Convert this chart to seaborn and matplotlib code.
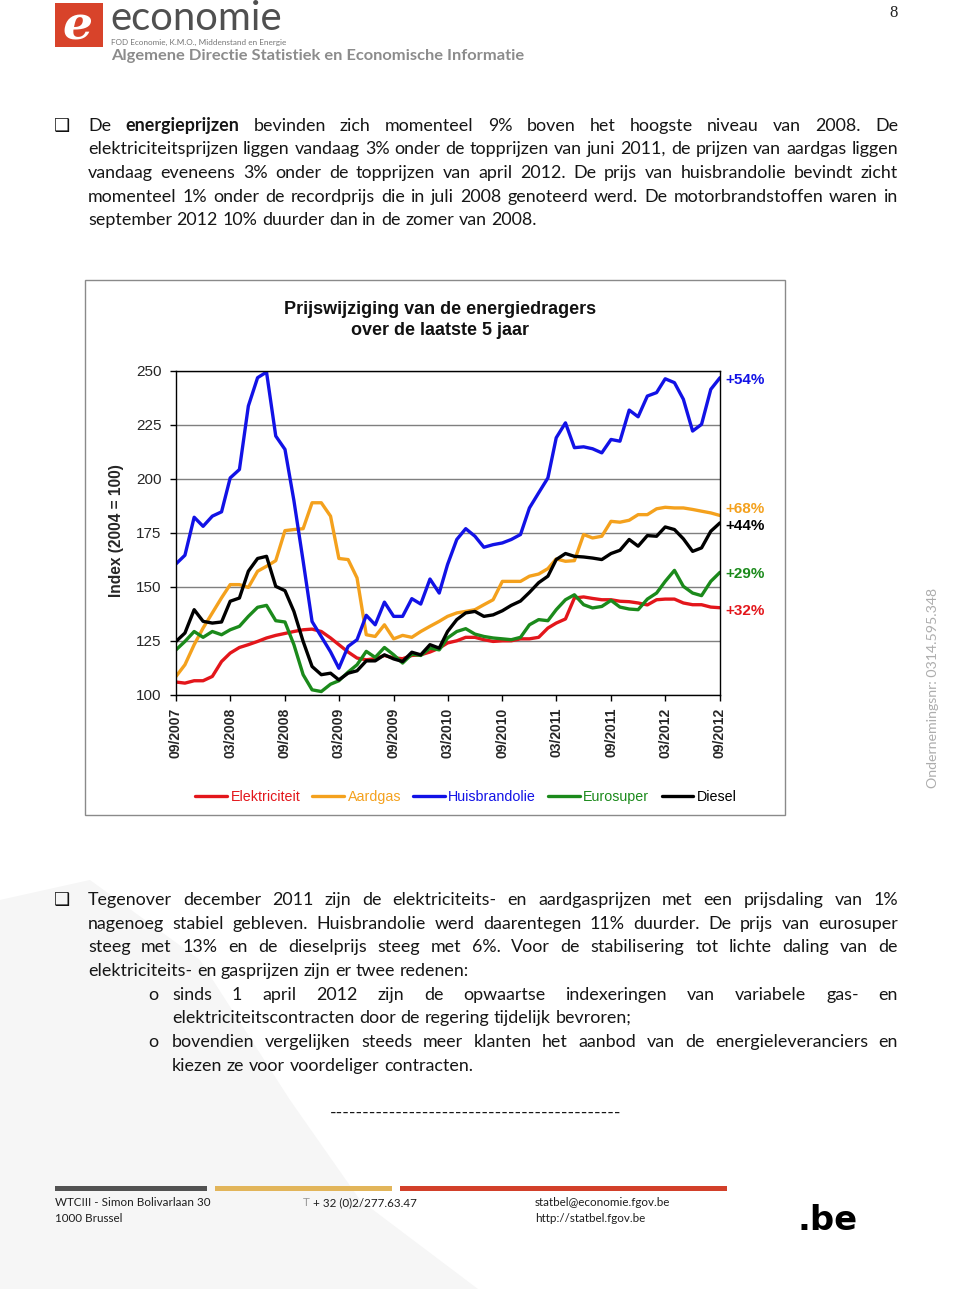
import pandas as pd
import seaborn as sns
import matplotlib
matplotlib.use("Agg")
import matplotlib.pyplot as plt
import matplotlib.dates as mdates
from matplotlib.patches import Rectangle, Polygon
from matplotlib.transforms import IdentityTransform

# Index (2004 = 100), monthly from 09/2007 to 09/2012
maanden = pd.date_range("2007-09-01", "2012-09-01", freq="MS")

elektriciteit = [106, 105.5, 106.6, 106.6, 108.6, 115.5, 119.4, 122, 123.3, 124.8, 126.4, 127.6, 128.5,
                 129.4, 130.2, 130.5, 129.4, 126.4, 123.3, 119.9, 117.1, 116.3, 116.8, 118.3, 117.2,
                 116.8, 118.3, 118.6, 119.9, 121.7, 124.1, 125.1, 126.7, 126.7, 125.6, 124.8, 125.1,
                 125.1, 126, 126, 126.7, 131,
                 133.3, 135.2, 144.9, 145.4, 144.7, 144.1, 144.1, 143.4, 143.2, 142.6, 141.7, 144.1,
                 144.4, 144.4, 142.6, 141.8, 141.8, 140.7, 140.4]
aardgas = [108.6, 114, 123.3, 131, 138, 145, 151.1, 151.1, 149.8, 157.3, 159.6, 162.2, 176.1,
           176.6, 177, 189, 189, 182.8, 163.2, 162.7, 154.2, 127.9, 127.1, 132.5, 126,
           127.6, 126.7, 129.4, 131.8, 134.1, 136.4, 138, 138.7, 139.5, 141.8, 144.1, 152.6,
           152.6, 152.6, 155, 156, 158.5,
           163, 161.9, 162.2, 174.3, 172.7, 173.5, 180.4, 180, 180.9, 183.5, 183.5, 186.2,
           186.9, 186.6, 186.6, 185.9, 185.1, 184.3, 183.1]
huisbrandolie = [160.7, 164.7, 182.3, 178.1, 182.8, 184.8, 200.5, 204.4, 233.8, 246.9, 249.5, 219.9, 213.7,
                 190, 162, 134, 127, 120, 112.4, 122.5, 125.6, 136.9, 132.5, 143, 136.4,
                 136.4, 144.6, 142.1, 153.7, 147.2, 160.4, 172, 177, 173.5, 168.4, 169.6, 170.4,
                 172, 174.3, 186.6, 193.6, 200.5,
                 219.1, 226, 214.5, 214.9, 214, 212.1, 218.3, 217.5, 231.9, 228.8, 238.4, 240,
                 246.4, 244.6, 236.9, 222.2, 225.3, 241.5, 246.9]
eurosuper = [120.9, 124.8, 129.4, 126.7, 129.4, 127.9, 130.2, 131.8, 136.4, 140.6, 141.5, 134.4, 133.8,
             123.3, 109.4, 102.4, 101.6, 105, 106.6, 110.6, 114, 120.2, 117.4, 122, 118.6,
             114.8, 118.9, 118.3, 121.7, 120.9, 126.4, 129.4, 130.7, 128.2, 127.1, 126.4, 126,
             125.6, 126.7, 132.5, 134.9, 134.4,
             139.5, 144.1, 146.4, 141.8, 140.3, 141, 143.8, 140.7, 139.8, 139.5, 144.4, 147.2,
             152.6, 157.7, 150.3, 147.2, 146, 152.6, 156.8]
diesel = [124.8, 128.7, 139.5, 134.1, 133.3, 133.8, 143.4, 144.9, 157.3, 163.2, 164.2, 150.3, 148.3,
          138.7, 124.8, 113.2, 109.4, 110.1, 107, 110.1, 111.2, 115.8, 115.8, 118.6, 116.7,
          115.5, 119.8, 118.6, 123.3, 121.7, 129.4, 134.9, 138, 138.7, 136.4, 137.1, 139,
          141.5, 143.5, 147.5, 152, 155,
          162.7, 165.5, 164.2, 163.9, 163.4, 162.7, 165.5, 167, 172, 168.9, 173.8, 173.5,
          177.8, 176.6, 172.3, 166.5, 168.1, 175.8, 179.7]

dragers = ["Elektriciteit", "Aardgas", "Huisbrandolie", "Eurosuper", "Diesel"]
kleuren = ["#e3161b", "#f4a11d", "#1212e6", "#1b8a1b", "#000000"]
eind_labels = ["+32%", "+68%", "+54%", "+29%", "+44%"]
label_dy = [-2.4, 4.7, -1.7, -1.2, -2.3]  # points

df = pd.DataFrame({"Maand": maanden, "Elektriciteit": elektriciteit, "Aardgas": aardgas,
                   "Huisbrandolie": huisbrandolie, "Eurosuper": eurosuper, "Diesel": diesel})
lang = df.melt(id_vars="Maand", var_name="Drager", value_name="Index")

# page setup, positions in pixels from the top-left
W, H = 960, 1289
sns.set_theme(style="white")
plt.rcParams["font.family"] = ["Liberation Sans", "DejaVu Sans"]
fig = plt.figure(figsize=(W / 100, H / 100), dpi=100)
fig.patch.set_facecolor("white")
PX = IdentityTransform()
rend = fig.canvas.get_renderer()


def put(x, y, s, **kw):
    return fig.text(x, H - y, s, transform=PX, **kw)


def width(s, **kw):
    t = put(0, 0, s, **kw)
    w = t.get_window_extent(rend).width
    t.remove()
    return w


def fit(s, target, size=10, **kw):
    return size * target / width(s, size=size, **kw)


# faint background swoosh
fig.add_artist(Polygon([(0, H - 900), (90, H - 880), (200, H - 960), (290, H - 1100), (360, H - 1200),
                        (478, 0), (0, 0)], closed=True, transform=PX, facecolor="#f6f6f6",
                       edgecolor="none", zorder=0))

# header
fig.add_artist(Rectangle((55, H - 47), 48, 44, transform=PX, facecolor="#d8432a", edgecolor="none"))
put(77, 27, "e", size=34, color="white", weight="bold", style="italic", ha="center", va="center",
    family=["DejaVu Serif"])
SANS = ["Lato", "DejaVu Sans"]
put(110, 30, "economie", size=fit("economie", 172, 20, family=SANS), family=SANS, color="#505050",
    va="baseline")
put(111, 45, "FOD Economie, K.M.O., Middenstand en Energie",
    size=fit("FOD Economie, K.M.O., Middenstand en Energie", 176, 5, family=SANS),
    family=SANS, color="#777777", va="baseline")
put(111, 60, "Algemene Directie Statistiek en Economische Informatie",
    size=fit("Algemene Directie Statistiek en Economische Informatie", 414, 10, family=SANS, weight="bold"),
    family=SANS, weight="bold", color="#8c8c8c", va="baseline")
put(894, 13, "8", size=12, family=["Liberation Serif"], color="#222222", ha="center", va="center")

# body text
BODY = dict(family=SANS, color="#161616")
body_size = fit("september 2012 10% duurder dan in de zomer van 2008.", 448, 12, **BODY)
space = width("n n", size=body_size, **BODY) - width("nn", size=body_size, **BODY)


def line(s, x0, y, x1=None):
    parts = []
    for w in s.split(" "):
        kw = dict(BODY, size=body_size, weight="bold" if w.startswith("*") else "normal")
        w = w.strip("*")
        parts.append((w, kw, width(w, **kw)))
    gap = space if x1 is None else (x1 - x0 - sum(p[2] for p in parts)) / (len(parts) - 1)
    x = x0
    for w, kw, wd in parts:
        put(x, y, w, va="baseline", **kw)
        x += wd + gap


par1 = ["De *energieprijzen* bevinden zich momenteel 9% boven het hoogste niveau van 2008. De",
        "elektriciteitsprijzen liggen vandaag 3% onder de topprijzen van juni 2011, de prijzen van aardgas liggen",
        "vandaag eveneens 3% onder de topprijzen van april 2012. De prijs van huisbrandolie bevindt zicht",
        "momenteel 1% onder de recordprijs die in juli 2008 genoteerd werd. De motorbrandstoffen waren in",
        "september 2012 10% duurder dan in de zomer van 2008."]
for k, (s, yc) in enumerate(zip(par1, [126, 149, 173, 197, 220])):
    line(s, 88, yc + 5, 898 if k < len(par1) - 1 else None)

par2 = ["Tegenover december 2011 zijn de elektriciteits- en aardgasprijzen met een prijsdaling van 1%",
        "nagenoeg stabiel gebleven. Huisbrandolie werd daarentegen 11% duurder. De prijs van eurosuper",
        "steeg met 13% en de dieselprijs steeg met 6%. Voor de stabilisering tot lichte daling van de",
        "elektriciteits- en gasprijzen zijn er twee redenen:"]
for k, (s, yc) in enumerate(zip(par2, [900, 924, 947, 971])):
    line(s, 88, yc + 5, 898 if k < len(par2) - 1 else None)
line("sinds 1 april 2012 zijn de opwaartse indexeringen van variabele gas- en", 172, 1000, 898)
line("elektriciteitscontracten door de regering tijdelijk bevroren;", 172, 1023)
line("bovendien vergelijken steeds meer klanten het aanbod van de energieleveranciers en", 172, 1047, 898)
line("kiezen ze voor voordeliger contracten.", 172, 1071)
for yc in [995, 1042]:
    put(148, yc + 5, "o", va="baseline", size=body_size, **BODY)
for yc in [126, 900]:
    put(62, yc, "\u2751", size=13, family=["DejaVu Sans"], color="#111111", ha="center", va="center")
put(476, 1113, "-" * 44, size=body_size, ha="center", va="center", **BODY)

# chart frame
fig.add_artist(Rectangle((85, H - 815), 700, 535, transform=PX, facecolor="white",
                         edgecolor="#8a8a8a", linewidth=1, zorder=1))

ax = fig.add_axes([176 / W, 1 - 695 / H, 544 / W, 324 / H])
ax.set_zorder(3)
sns.lineplot(data=lang, x="Maand", y="Index", hue="Drager", hue_order=dragers,
             palette=dict(zip(dragers, kleuren)), linewidth=2.4, ax=ax)

ax.set_xlim(maanden[0], maanden[-1])
ax.set_ylim(100, 250)
ax.set_yticks([100, 125, 150, 175, 200, 225, 250])
ax.set_xticks(maanden[::6])
ax.xaxis.set_major_formatter(mdates.DateFormatter("%m/%Y"))
ax.yaxis.grid(True, color="#7f7f7f", linewidth=1)
ax.xaxis.grid(False)
ax.set_axisbelow(True)
for sp in ax.spines.values():
    sp.set_visible(True)
    sp.set_color("black")
    sp.set_linewidth(1)
ax.tick_params(axis="y", length=4, width=1, color="black", direction="out", pad=6.5, labelsize=11, left=True)
ax.tick_params(axis="x", length=4, width=1, color="black", direction="out", pad=5, labelsize=10, bottom=True)
for t in ax.get_xticklabels():
    t.set_rotation(90)
    t.set_fontweight("bold")
ax.set_xlabel("")
ax.set_ylabel("")

put(116, 531, "Index (2004 = 100)", size=11.2, weight="bold", rotation=90, ha="center", va="center")
put(440, 320, "Prijswijziging van de energiedragers\nover de laatste 5 jaar", size=13, weight="bold",
    ha="center", va="center", linespacing=1.25, color="#111111")

for naam, kleur, lab, dy in zip(dragers, kleuren, eind_labels, label_dy):
    ax.annotate(lab, xy=(maanden[-1], df[naam].iloc[-1]), xytext=(3.8, dy), textcoords="offset points",
                ha="left", va="center", color=kleur, fontsize=11, fontweight="bold", annotation_clip=False)

sns.move_legend(ax, "center", bbox_to_anchor=((466 - 176) / 544, (695 - 797) / 324), ncol=5,
                frameon=False, title=None, fontsize=10.3, handlelength=2.2, handletextpad=0.25,
                columnspacing=0.85, labelcolor="linecolor")

# right margin
on_text = "Ondernemingsnr: 0314.595.348"
put(933, 688, on_text, size=fit(on_text, 200, 10, family=SANS), family=SANS, color="#adadad",
    rotation=90, ha="center", va="center")

# footer
for x0, x1, c in [(55, 207, "#525252"), (215, 392, "#e2b55a"), (400, 727, "#d2402a")]:
    fig.add_artist(Rectangle((x0, H - 1191), x1 - x0, 5, transform=PX, facecolor=c, edgecolor="none"))
foot_size = fit("WTCIII - Simon Bolivarlaan 30", 155, 9, family=SANS)
FOOT = dict(size=foot_size, family=SANS, color="#1e1e1e", va="center")
put(55, 1203, "WTCIII - Simon Bolivarlaan 30", **FOOT)
put(55, 1219, "1000 Brussel", **FOOT)
put(303, 1203, "T", **dict(FOOT, color="#9a9a9a"))
put(303 + width("T ", size=foot_size, family=SANS), 1203, "+ 32 (0)2/277.63.47", **FOOT)
put(535, 1203, "statbel@economie.fgov.be", **FOOT)
put(535, 1219, "http://statbel.fgov.be", **FOOT)
put(828, 1220, ".be", size=fit(".be", 60, 30, family=["DejaVu Sans"], weight="bold"),
    family=["DejaVu Sans"], weight="bold", color="black", ha="center", va="center")

fig.savefig("out.png", dpi=100, facecolor="white")
